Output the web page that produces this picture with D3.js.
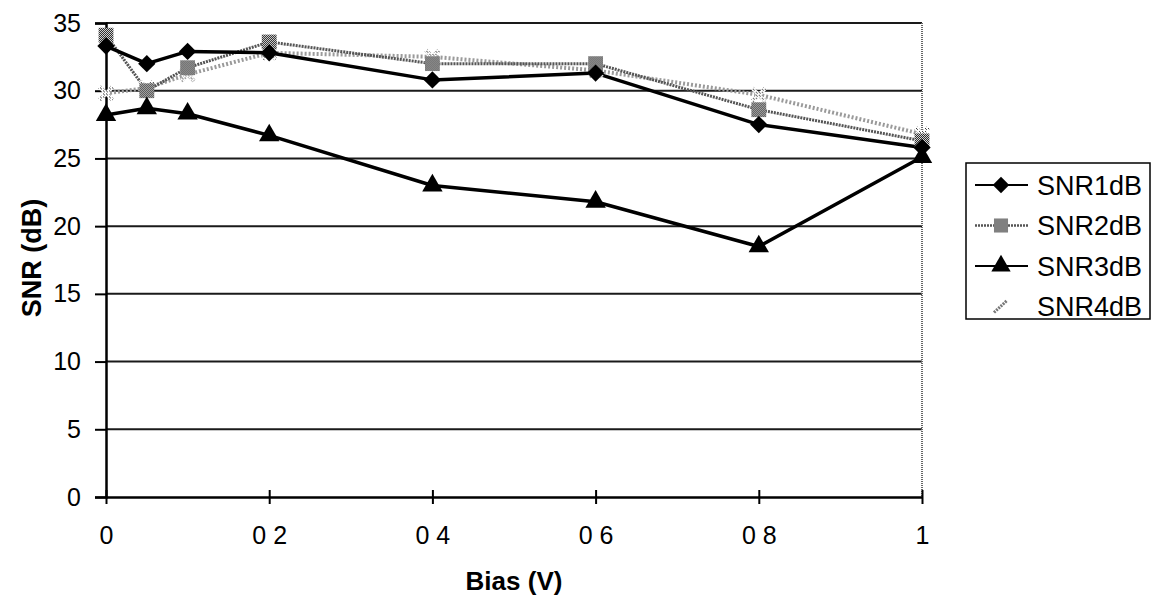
<!DOCTYPE html>
<html>
<head>
<meta charset="utf-8">
<script src="https://cdn.jsdelivr.net/npm/d3@7"></script>
<style>
  html, body { margin: 0; padding: 0; background: #fff; }
  svg { display: block; }
  text { font-family: "Liberation Sans", Arial, sans-serif; fill: #000; }
</style>
</head>
<body>
<svg id="chart" width="1152" height="600"></svg>
<script>
// Bias voltage (V) for each measurement
const bias = [0, 0.05, 0.1, 0.2, 0.4, 0.6, 0.8, 1];
// SNR values (dB) for each series
const snr1 = [33.3, 32.0, 32.9, 32.8, 30.8, 31.3, 27.5, 25.8];
const snr2 = [34.1, 30.0, 31.7, 33.6, 32.0, 32.0, 28.6, 26.3];
const snr3 = [28.2, 28.7, 28.3, 26.7, 23.0, 21.8, 18.5, 25.1];
const snr4 = [29.8, 30.2, 31.2, 32.8, 32.5, 31.5, 29.7, 26.8];
const seriesNames = ["SNR1dB", "SNR2dB", "SNR3dB", "SNR4dB"];
// Axis ticks
const xTicks = [0, 0.2, 0.4, 0.6, 0.8, 1];
const xTickLabels = ["0", "0 2", "0 4", "0 6", "0 8", "1"];
const yTicks = [0, 5, 10, 15, 20, 25, 30, 35];

const svg = d3.select("#chart");
const plot = { left: 106, right: 922, top: 23, bottom: 497 };

const x = d3.scaleLinear().domain([0, 1]).range([plot.left, plot.right]);
const y = d3.scaleLinear().domain([0, 35]).range([plot.bottom, plot.top]);

// Stipple fills for the grey markers
const defs = svg.append("defs");
const checker = defs.append("pattern").attr("id", "checker")
  .attr("width", 2).attr("height", 2).attr("patternUnits", "userSpaceOnUse");
checker.append("rect").attr("width", 2).attr("height", 2).attr("fill", "#fff");
checker.append("rect").attr("width", 1).attr("height", 1).attr("fill", "#000");
checker.append("rect").attr("x", 1).attr("y", 1).attr("width", 1).attr("height", 1).attr("fill", "#000");

const light = defs.append("pattern").attr("id", "light")
  .attr("width", 3).attr("height", 3).attr("patternUnits", "userSpaceOnUse");
light.append("rect").attr("width", 3).attr("height", 3).attr("fill", "#fff");
light.append("rect").attr("width", 1).attr("height", 1).attr("fill", "#333");
light.append("rect").attr("x", 1).attr("y", 1).attr("width", 1).attr("height", 1).attr("fill", "#555");

// Horizontal gridlines
svg.append("g").selectAll("line").data(yTicks.filter(d => d > 0)).join("line")
  .attr("x1", plot.left).attr("x2", plot.right)
  .attr("y1", d => y(d)).attr("y2", d => y(d))
  .attr("stroke", "#1a1a1a").attr("stroke-width", 2);

// Right border of plot area
svg.append("line")
  .attr("x1", plot.right).attr("x2", plot.right)
  .attr("y1", plot.top).attr("y2", plot.bottom)
  .attr("stroke", "#666").attr("stroke-width", 2).attr("stroke-dasharray", "1,1");

// Y axis
const yAxis = d3.axisLeft(y).tickValues(yTicks).tickSize(11).tickPadding(14);
const gy = svg.append("g").attr("transform", `translate(${plot.left},0)`).call(yAxis);
gy.select(".domain").attr("stroke", "#000").attr("stroke-width", 2.5);
gy.selectAll(".tick line").attr("stroke", "#000").attr("stroke-width", 2);
gy.selectAll(".tick text").attr("font-size", 25).attr("font-family", "Liberation Sans, Arial, sans-serif").attr("fill", "#000");

// X axis
const xAxis = d3.axisBottom(x).tickValues(xTicks).tickFormat((d, i) => xTickLabels[i])
  .tickSizeInner(7).tickSizeOuter(0).tickPadding(22);
const gx = svg.append("g").attr("transform", `translate(0,${plot.bottom})`).call(xAxis);
gx.select(".domain").attr("stroke", "#000").attr("stroke-width", 2.5);
gx.selectAll(".tick line").attr("stroke", "#000").attr("stroke-width", 2).attr("y1", -7);
gx.selectAll(".tick text").attr("font-size", 25).attr("font-family", "Liberation Sans, Arial, sans-serif").attr("fill", "#000");

// Axis titles
svg.append("text").attr("x", 514).attr("y", 590).attr("text-anchor", "middle")
  .attr("font-size", 26).attr("font-weight", "bold").text("Bias (V)");
svg.append("text").attr("transform", "translate(41,258) rotate(-90)").attr("text-anchor", "middle")
  .attr("font-size", 27).attr("font-weight", "bold").text("SNR (dB)");

// Marker shapes
const xMark = { draw(ctx, size) {
  const r = Math.sqrt(size) / 2, w = r * 0.35;
  ctx.moveTo(-r, -r + w); ctx.lineTo(-r + w, -r); ctx.lineTo(0, -w); ctx.lineTo(r - w, -r);
  ctx.lineTo(r, -r + w); ctx.lineTo(w, 0); ctx.lineTo(r, r - w); ctx.lineTo(r - w, r);
  ctx.lineTo(0, w); ctx.lineTo(-r + w, r); ctx.lineTo(-r, r - w); ctx.lineTo(-w, 0); ctx.closePath();
}};
const wideDiamond = { draw(ctx, size) {
  const r = Math.sqrt(size / 2);
  ctx.moveTo(0, -r); ctx.lineTo(r, 0); ctx.lineTo(0, r); ctx.lineTo(-r, 0); ctx.closePath();
}};
const series = [
  { name: seriesNames[3], values: snr4, stroke: "#9a9a9a", width: 4, dash: "2,2",
    symbol: xMark, size: 260, fill: "url(#light)" },
  { name: seriesNames[1], values: snr2, stroke: "#555", width: 3, dash: "2,1",
    symbol: d3.symbolSquare, size: 220, fill: "url(#checker)" },
  { name: seriesNames[0], values: snr1, stroke: "#000", width: 3.5, dash: null,
    symbol: wideDiamond, size: 150, fill: "#000" },
  { name: seriesNames[2], values: snr3, stroke: "#000", width: 3.5, dash: null,
    symbol: d3.symbolTriangle, size: 180, fill: "#000" }
];

const line = d3.line().x(d => x(d[0])).y(d => y(d[1]));

series.forEach(s => {
  const pts = bias.map((b, i) => [b, s.values[i]]);
  svg.append("path").datum(pts)
    .attr("d", line).attr("fill", "none")
    .attr("stroke", s.stroke).attr("stroke-width", s.width)
    .attr("stroke-dasharray", s.dash)
    .attr("stroke-linejoin", "round");
});
series.forEach(s => {
  const pts = bias.map((b, i) => [b, s.values[i]]);
  svg.append("g").selectAll("path").data(pts).join("path")
    .attr("transform", d => `translate(${x(d[0])},${y(d[1])})`)
    .attr("d", d3.symbol().type(s.symbol).size(s.size))
    .attr("fill", s.fill);
});

// Legend
const legend = svg.append("g");
legend.append("rect").attr("x", 966).attr("y", 163).attr("width", 184).attr("height", 156)
  .attr("fill", "#fff").attr("stroke", "#000").attr("stroke-width", 1.5);
const legendOrder = [series[2], series[1], series[3], series[0]];
legendOrder.forEach((s, i) => {
  const cy = 185 + i * 40.5;
  const g = legend.append("g");
  if (s.name !== seriesNames[3]) {
    g.append("line").attr("x1", 975).attr("x2", 1028).attr("y1", cy).attr("y2", cy)
      .attr("stroke", s.stroke).attr("stroke-width", s.name === seriesNames[1] ? 2.5 : 2)
      .attr("stroke-dasharray", s.dash);
    g.append("path").attr("transform", `translate(1001,${cy})`)
      .attr("d", d3.symbol().type(s.symbol).size(s.size * 0.9)).attr("fill", s.fill);
  } else {
    g.append("line").attr("x1", 994).attr("x2", 1007).attr("y1", cy + 6).attr("y2", cy - 6)
      .attr("stroke", "#777").attr("stroke-width", 3).attr("stroke-dasharray", "2,1");
  }
  g.append("text").attr("x", 1037).attr("y", cy).attr("dy", "0.36em")
    .attr("font-size", 27).text(s.name);
});
</script>
</body>
</html>
